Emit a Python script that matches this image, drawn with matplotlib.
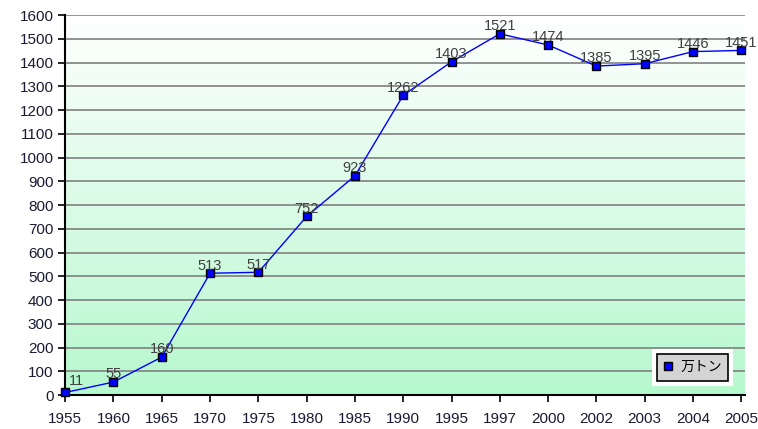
import numpy as np
import matplotlib.pyplot as plt
from matplotlib.colors import LinearSegmentedColormap
from matplotlib.patches import Rectangle

plt.rcParams['font.family'] = ['Liberation Sans', 'Noto Sans CJK JP', 'DejaVu Sans']

years = ['1955', '1960', '1965', '1970', '1975', '1980', '1985', '1990',
         '1995', '1997', '2000', '2002', '2003', '2004', '2005']
values = [11, 55, 160, 513, 517, 752, 923, 1262, 1403, 1521, 1474, 1385, 1395, 1446, 1451]
series_name = '万トン'

fig = plt.figure(figsize=(7.58, 4.29), dpi=100)
ax = fig.add_axes([0.086, 0.079, 0.897, 0.886])

x = np.arange(len(years))

# gradient background (white at top -> light green at bottom)
cmap = LinearSegmentedColormap.from_list('bg', ['#b6f8ce', '#ffffff'])
grad = np.linspace(0, 1, 256).reshape(-1, 1)
ax.imshow(grad, cmap=cmap, origin='lower', aspect='auto',
          extent=[0, 1, 0, 1], transform=ax.transAxes, zorder=0)

ax.set_xlim(0, len(years) - 1 + 0.08)
ax.set_ylim(0, 1600)
ax.set_yticks(np.arange(0, 1601, 100))
ax.set_xticks(x)
ax.set_xticklabels(years)
ax.grid(axis='y', color='#808080', linewidth=1.2, zorder=1)
ax.set_axisbelow(True)

ax.plot(x, values, color='#0000ff', linewidth=1, marker='s', markersize=6,
        markerfacecolor='#0000ff', markeredgecolor='black', markeredgewidth=1,
        zorder=3, label=series_name, clip_on=False)

for i, v in enumerate(values):
    off = (8, 3) if i == 0 else (0, 0.5)
    ax.annotate(str(v), (x[i], v), xytext=off, textcoords='offset points',
                ha='center', va='bottom', fontsize=10.5, color='#404040', zorder=4)

for s in ['top', 'right']:
    ax.spines[s].set_visible(False)
ax.spines['left'].set_linewidth(1.5)
ax.spines['bottom'].set_linewidth(1.5)
ax.tick_params(axis='both', labelsize=11, length=5, width=1.2, colors='black')
ax.tick_params(axis='y', labelcolor='#1a1a33')
ax.tick_params(axis='x', pad=7, labelcolor='#1a1a33')

leg = ax.legend(loc='lower right', bbox_to_anchor=(0.985, 0.02), fontsize=10,
                frameon=True, fancybox=False, edgecolor='black',
                facecolor='#d4d4d4', framealpha=1, handlelength=0.6,
                handletextpad=0.6, borderpad=0.45, markerscale=1)
leg.get_frame().set_linewidth(1.2)
leg.legend_handles[0].set_linestyle('none')
leg.set_zorder(6)

# white margin around the legend box
fig.canvas.draw()
bb = leg.get_window_extent()
pad = 5
ax.add_patch(Rectangle((bb.x0 - pad, bb.y0 - pad), bb.width + 2 * pad, bb.height + 2 * pad,
                       transform=None, facecolor='white', edgecolor='none', zorder=5))

fig.savefig('out.png', dpi=100)
plt.close(fig)
